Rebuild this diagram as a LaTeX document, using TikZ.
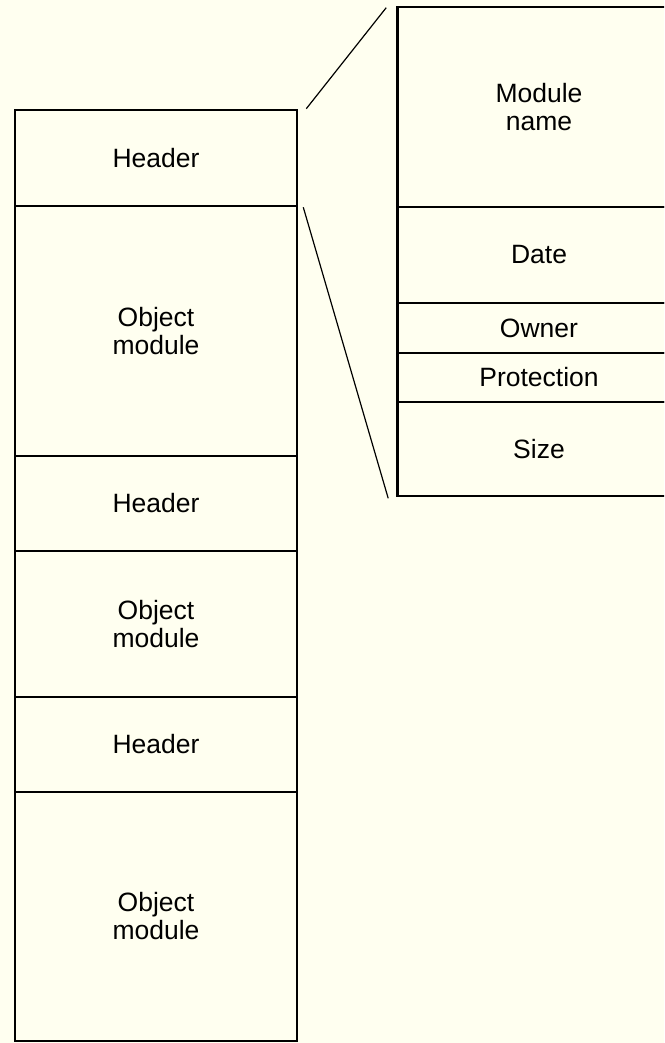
\documentclass[tikz,border=0pt]{standalone}
\usepackage{fontspec}
\setmainfont{Liberation Sans}
\definecolor{bgivory}{RGB}{255,255,240}
\begin{document}
\begin{tikzpicture}[x=1pt,y=-1pt,
  cell/.style={draw=black, line width=2.6pt, rectangle, inner sep=0pt, align=center,
    font=\fontsize{26.5}{28}\selectfont},
  lcell/.style={cell, minimum width=282pt},
  rcell/.style={cell, minimum width=283pt},
  zoomline/.style={line width=1.2pt, black}]
\fill[bgivory] (0,0) rectangle (664,1043);
\useasboundingbox (0,0) rectangle (664,1043);
\begin{scope}
\clip (0,0) rectangle (664,1043);
% left column
\node[lcell, minimum height=96pt]  (h1) at (156,158) {Header};
\node[lcell, minimum height=250pt] (o1) at (156,331) {Object\\module};
\node[lcell, minimum height=95pt]  (h2) at (156,503.5) {Header};
\node[lcell, minimum height=146pt] (o2) at (156,624) {Object\\module};
\node[lcell, minimum height=95pt]  (h3) at (156,744.5) {Header};
\node[lcell, minimum height=249pt] (o3) at (156,916.5) {Object\\module};
% right column
\node[rcell, minimum height=200pt] (mn) at (539,107) {Module\\name};
\node[rcell, minimum height=96pt]  (dt) at (539,255) {Date};
\node[rcell, minimum height=50pt]  (ow) at (539,328) {Owner};
\node[rcell, minimum height=49pt]  (pr) at (539,377.5) {Protection};
\node[rcell, minimum height=94pt]  (sz) at (539,449) {Size};
\end{scope}
% zoom lines
\draw[zoomline] ([xshift=8pt]h1.north east) -- ([xshift=-10pt,yshift=-2pt]mn.north west);
\draw[zoomline] ([xshift=5pt]h1.south east) -- ([xshift=-8pt,yshift=-1pt]sz.south west);
\end{tikzpicture}
\end{document}
